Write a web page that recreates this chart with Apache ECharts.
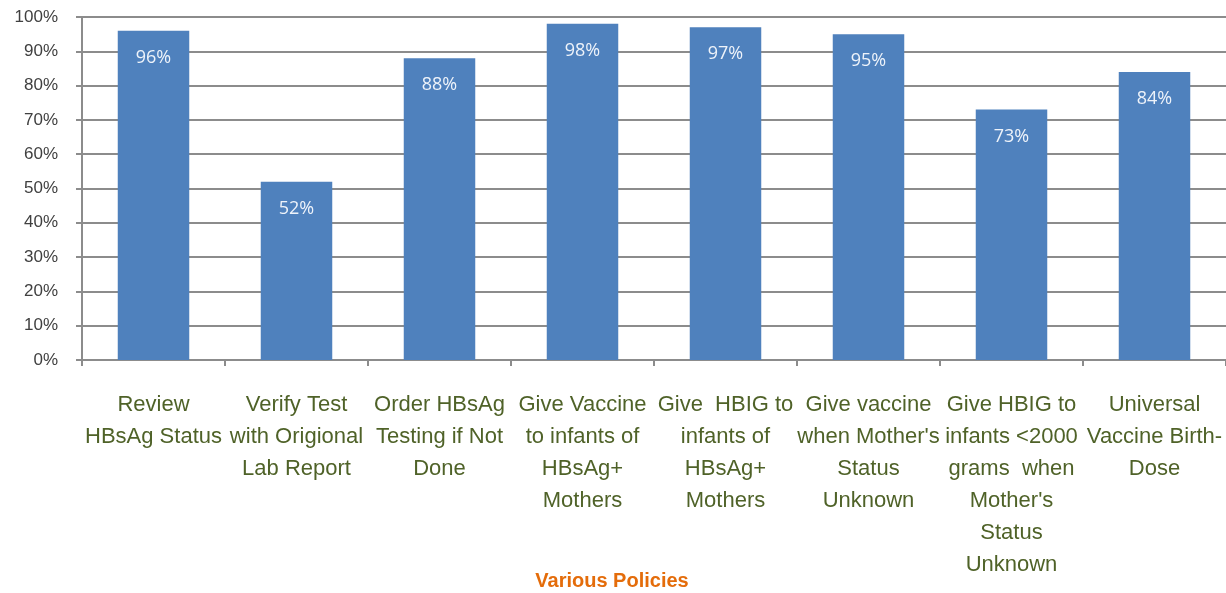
<!DOCTYPE html>
<html lang="en">
<head>
    <meta charset="utf-8"/>
    <title>Various Policies</title>
    <script src="https://cdn.jsdelivr.net/npm/echarts@6/dist/echarts.min.js"></script>
    <style>
        html, body { margin: 0; padding: 0; background: #fff; }
        #main { width: 1226px; height: 593px; }
    </style>
</head>
<body>
<div id="main"></div>
<script>
    // categories (line breaks as in the original chart)
    var policies = [
        'Review\nHBsAg Status',
        'Verify Test\nwith Origional\nLab Report',
        'Order HBsAg\nTesting if Not\nDone',
        'Give Vaccine\nto infants of\nHBsAg+\nMothers',
        'Give  HBIG to\ninfants of\nHBsAg+\nMothers',
        'Give vaccine\nwhen Mother\'s\nStatus\nUnknown',
        'Give HBIG to\ninfants <2000\ngrams  when\nMother\'s\nStatus\nUnknown',
        'Universal\nVaccine Birth-\nDose'
    ];
    // percent of hospitals with the policy
    var percents = [96, 52, 88, 98, 97, 95, 73, 84];

    var chart = echarts.init(document.getElementById('main'));
    var option = {
        animation: false,
        grid: {left: 82, right: 0, top: 17, bottom: 233, outerBoundsMode: 'none', containLabel: false},
        xAxis: {
            type: 'category',
            data: policies,
            name: 'Various Policies',
            nameLocation: 'middle',
            nameGap: 211,
            nameMoveOverlap: false,
            nameTextStyle: {
                color: '#e46c0a',
                fontSize: 20,
                fontWeight: 'bold',
                fontFamily: 'Liberation Sans, Arial',
                padding: [0, 84, 0, 0] // title sits a bit left of the plot centre
            },
            axisLine: {lineStyle: {color: '#8c8c8c', width: 2}},
            axisTick: {show: true, length: 6, lineStyle: {color: '#8c8c8c', width: 2}},
            axisLabel: {
                interval: 0,
                margin: 29,
                color: '#4f6228',
                fontSize: 22,
                lineHeight: 32,
                fontFamily: 'Liberation Sans, Arial'
            }
        },
        yAxis: {
            type: 'value',
            min: 0,
            max: 100,
            interval: 10,
            axisLine: {show: true, lineStyle: {color: '#8c8c8c', width: 2}},
            axisTick: {show: true, length: 6, lineStyle: {color: '#8c8c8c', width: 2}},
            splitLine: {lineStyle: {color: '#8c8c8c', width: 2}},
            axisLabel: {
                formatter: '{value}%',
                color: '#404040',
                fontSize: 17,
                margin: 24,
                fontFamily: 'Liberation Sans, Arial'
            }
        },
        series: [
            {
                type: 'bar',
                data: percents,
                barWidth: '50%',
                itemStyle: {color: '#4f81bd'},
                label: {
                    show: true,
                    position: 'insideTop',
                    distance: 18,
                    formatter: '{c}%',
                    color: '#eef3fa',
                    fontSize: 18,
                    fontFamily: 'Open Sans, Liberation Sans, Arial'
                }
            }
        ]
    };
    chart.setOption(option);
</script>
</body>
</html>
